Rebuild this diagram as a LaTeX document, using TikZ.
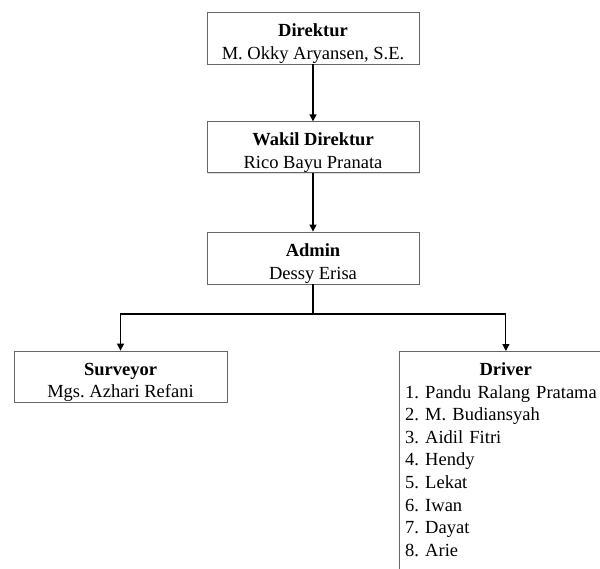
\documentclass[tikz,border=0pt]{standalone}
\usepackage{fontspec}
\setmainfont{Liberation Serif}
\frenchspacing
\usetikzlibrary{arrows.meta,shadows}
\newcommand\firstline{\rule{0pt}{24pt}}
\begin{document}
\begin{tikzpicture}[x=1pt,y=-1pt,
  box/.style={draw=black!60, line width=0.8pt, fill=white,
    drop shadow={shadow xshift=1.2pt, shadow yshift=-1.2pt, opacity=0.25},
    minimum width=212pt, minimum height=52pt, align=center, inner sep=0pt,
    font=\fontsize{18.5}{22.6}\selectfont},
  conn/.style={line width=1.1pt, -{Triangle[length=7pt,width=7pt]}},
  plain/.style={line width=1.1pt}]
\useasboundingbox (0,0) rectangle (600,568);
\clip (0,0) rectangle (600,568);
\node[box] (dir) at (313,38) {\firstline\textbf{Direktur}\\M. Okky Aryansen, S.E.};
\node[box, minimum height=50pt] (wakil) at (313,147) {\firstline\textbf{Wakil Direktur}\\Rico Bayu Pranata};
\node[box] (admin) at (313,258) {\firstline\textbf{Admin}\\Dessy Erisa};
\node[box, minimum width=213pt, minimum height=51pt] (surv) at (120.5,376.5) {\firstline\textbf{Surveyor}\\Mgs. Azhari Refani};
\node[box, minimum width=213pt, minimum height=240pt, anchor=north west] (drv) at (399,351) {};
\node[anchor=north west, inner xsep=6pt, inner ysep=11.5pt, text width=201pt, align=left,
  font=\fontsize{18.5}{22.6}\selectfont] (drvtext) at (drv.north west)
  {\makebox[\linewidth]{\textbf{Driver}}\\1. Pandu Ralang Pratama\\2. M. Budiansyah\\3. Aidil Fitri\\4. Hendy\\5. Lekat\\6. Iwan\\7. Dayat\\8. Arie};
\coordinate (split) at (313,314);
\draw[conn] (dir.south) -- (wakil.north);
\draw[conn] (wakil.south) -- (admin.north);
\draw[plain] (admin.south) -- (split);
\draw[conn] (split) -| (surv.north);
\draw[conn] (split) -| (drv.north);
\end{tikzpicture}
\end{document}
